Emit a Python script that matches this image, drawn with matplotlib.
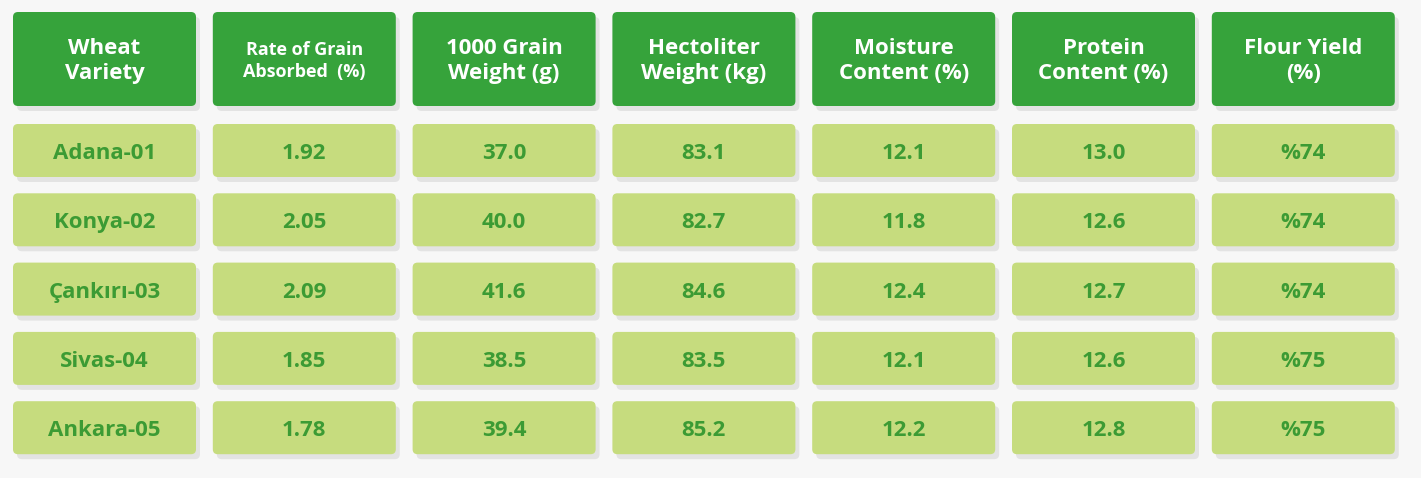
import matplotlib
matplotlib.use("Agg")
import matplotlib.pyplot as plt
from matplotlib.patches import FancyBboxPatch

headers = ["Wheat\nVariety", "Rate of Grain\nAbsorbed  (%)", "1000 Grain\nWeight (g)",
           "Hectoliter\nWeight (kg)", "Moisture\nContent (%)", "Protein\nContent (%)", "Flour Yield\n(%)"]
varieties = ["Adana-01", "Konya-02", "Çankırı-03", "Sivas-04", "Ankara-05"]
absorbed = ["1.92", "2.05", "2.09", "1.85", "1.78"]
grain_weight = ["37.0", "40.0", "41.6", "38.5", "39.4"]
hectoliter = ["83.1", "82.7", "84.6", "83.5", "85.2"]
moisture = ["12.1", "11.8", "12.4", "12.1", "12.2"]
protein = ["13.0", "12.6", "12.7", "12.6", "12.8"]
flour_yield = ["%74", "%74", "%74", "%75", "%75"]
columns = [varieties, absorbed, grain_weight, hectoliter, moisture, protein, flour_yield]

fig = plt.figure(figsize=(14.21, 4.78), dpi=100)
fig.patch.set_facecolor("#f7f7f7")
ax = fig.add_axes([0, 0, 1, 1])
ax.set_xlim(0, 1421); ax.set_ylim(478, 0); ax.axis("off")

x0, cw, gap = 13, 183, 16.8
hy, hh = 12, 94
ry0, rh, rstep = 124, 53, 69.3
hdr_col, cell_col, txt_col = "#36a33b", "#c6dc7e", "#3c9b34"

def box(x, y, w, h, c):
    ax.add_patch(FancyBboxPatch((x + 4, y + 5), w, h, boxstyle="round,pad=0,rounding_size=5",
                                fc="#000000", alpha=0.08, ec="none"))
    ax.add_patch(FancyBboxPatch((x, y), w, h, boxstyle="round,pad=0,rounding_size=5",
                                fc=c, ec="none"))

for j, h in enumerate(headers):
    x = x0 + j * (cw + gap)
    box(x, hy, cw, hh, hdr_col)
    ax.text(x + cw / 2, hy + hh / 2 + 2, h, ha="center", va="center", color="white",
            fontsize=13 if j == 1 else 16, fontweight="bold", family="Open Sans", linespacing=1.3)
    for i, v in enumerate(columns[j]):
        y = ry0 + i * rstep
        box(x, y, cw, rh, cell_col)
        ax.text(x + cw / 2, y + rh / 2 + 3, v, ha="center", va="center", color=txt_col,
                fontsize=16, fontweight="bold", family="Open Sans")

fig.savefig("out.png", dpi=100, facecolor=fig.get_facecolor())
